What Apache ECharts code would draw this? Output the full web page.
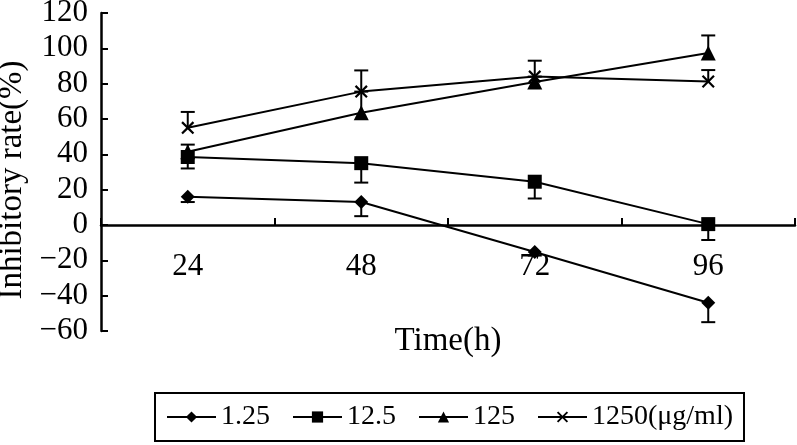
<!DOCTYPE html>
<html>
<head>
<meta charset="utf-8">
<script src="https://cdn.jsdelivr.net/npm/echarts@6/dist/echarts.min.js"></script>
<style>
  html, body { margin: 0; padding: 0; background: #fff; }
  #chart { width: 797px; height: 445px; }
</style>
</head>
<body>
<div id="chart"></div>
<script>
// hours
const times = ['24', '48', '72', '96']

// inhibitory rate (%) per dose, with error bar length
const dose125a = [16, 13, -15.3, -44]      // 1.25
const err125a = [3, 8, 2, 11]
const dose12_5 = [38.5, 35, 24.5, 0.5]     // 12.5
const err12_5 = [6.5, 11, 9.5, 9]
const dose125 = [41.5, 63.5, 81, 97.3]     // 125
const err125 = [4, 12, 3, 10]
const dose1250 = [55, 75.5, 84, 81.2]      // 1250
const err1250 = [9, 12, 9, 6.5]

const seriesNames = ['1.25', '12.5', '125', '1250(μg/ml)']

const FONT = 'Liberation Serif'
const crossPath = 'path://M0,1.2L1.2,0L5,3.8L8.8,0L10,1.2L6.2,5L10,8.8L8.8,10L5,6.2L1.2,10L0,8.8L3.8,5Z'

// grid geometry, the x axis sits on y = 0
const gridTop = 13
const gridBottom = 114
const plotHeight = 445 - gridTop - gridBottom
const yMin = -60
const yMax = 120
const zeroOffset = -plotHeight * (0 - yMin) / (yMax - yMin)

const lineSeries = (name, data, symbol, size) => ({
    name,
    type: 'line',
    data,
    symbol,
    symbolSize: size,
    showAllSymbol: true,
    z: 3,
    lineStyle: { color: '#000', width: 2 },
    itemStyle: { color: '#000', borderWidth: 0 },
    emphasis: { disabled: true },
})

// dir: -1 bar goes down, 1 bar goes up
const errorSeries = (values, errs, dir) => ({
    type: 'custom',
    z: 2,
    silent: true,
    data: values.map((v, i) => [i, v, errs[i]]),
    renderItem(params, api) {
        const x = api.value(0)
        const v = api.value(1)
        const p = api.coord([x, v])
        const q = api.coord([x, v + dir * api.value(2)])
        const half = 7
        const style = { stroke: '#000', lineWidth: 2 }
        return {
            type: 'group',
            children: [
                { type: 'line', shape: { x1: p[0], y1: p[1], x2: q[0], y2: q[1] }, style },
                { type: 'line', shape: { x1: q[0] - half, y1: q[1], x2: q[0] + half, y2: q[1] }, style },
            ],
        }
    },
})

const chart = echarts.init(document.getElementById('chart'))
chart.setOption({
    animation: false,
    textStyle: { fontFamily: FONT, color: '#000' },
    grid: { left: 101, right: 2, top: gridTop, bottom: gridBottom, outerBoundsMode: 'none' },
    legend: {
        data: seriesNames,
        left: 155,
        top: 393,
        orient: 'horizontal',
        itemWidth: 49,
        itemHeight: 14,
        itemGap: 22,
        padding: [10, 11, 10, 11],
        borderColor: '#000',
        borderWidth: 2,
        textStyle: { fontFamily: FONT, fontSize: 28, color: '#000' },
    },
    xAxis: {
        type: 'category',
        data: times,
        offset: zeroOffset,
        name: 'Time(h)',
        nameLocation: 'middle',
        nameGap: 100,
        nameTextStyle: { fontFamily: FONT, fontSize: 33, color: '#000' },
        axisLine: { show: true, onZero: false, lineStyle: { color: '#000', width: 2.5 } },
        axisTick: { show: true, inside: true, length: 7, lineStyle: { color: '#000', width: 2 } },
        axisLabel: { margin: 26, fontFamily: FONT, fontSize: 31, color: '#000' },
        splitLine: { show: false },
    },
    yAxis: {
        type: 'value',
        min: yMin,
        max: yMax,
        interval: 20,
        name: 'Inhibitory rate(%)',
        nameLocation: 'middle',
        nameGap: 64,
        nameTextStyle: { fontFamily: FONT, fontSize: 33, color: '#000', padding: [0, 16, 0, 0] },
        axisLine: { show: true, lineStyle: { color: '#000', width: 2.5 } },
        axisTick: { show: true, inside: true, length: 7, lineStyle: { color: '#000', width: 2 } },
        axisLabel: {
            margin: 13,
            fontFamily: FONT,
            fontSize: 31,
            color: '#000',
            formatter: v => (v < 0 ? '\u2212' + Math.abs(v) : String(v)),
        },
        splitLine: { show: false },
    },
    series: [
        errorSeries(dose125a, err125a, -1),
        errorSeries(dose12_5, err12_5, -1),
        errorSeries(dose125, err125, 1),
        errorSeries(dose1250, err1250, 1),
        lineSeries(seriesNames[0], dose125a, 'diamond', 14),
        lineSeries(seriesNames[1], dose12_5, 'rect', 14),
        lineSeries(seriesNames[2], dose125, 'triangle', 15),
        lineSeries(seriesNames[3], dose1250, crossPath, 13),
    ],
})
</script>
</body>
</html>
